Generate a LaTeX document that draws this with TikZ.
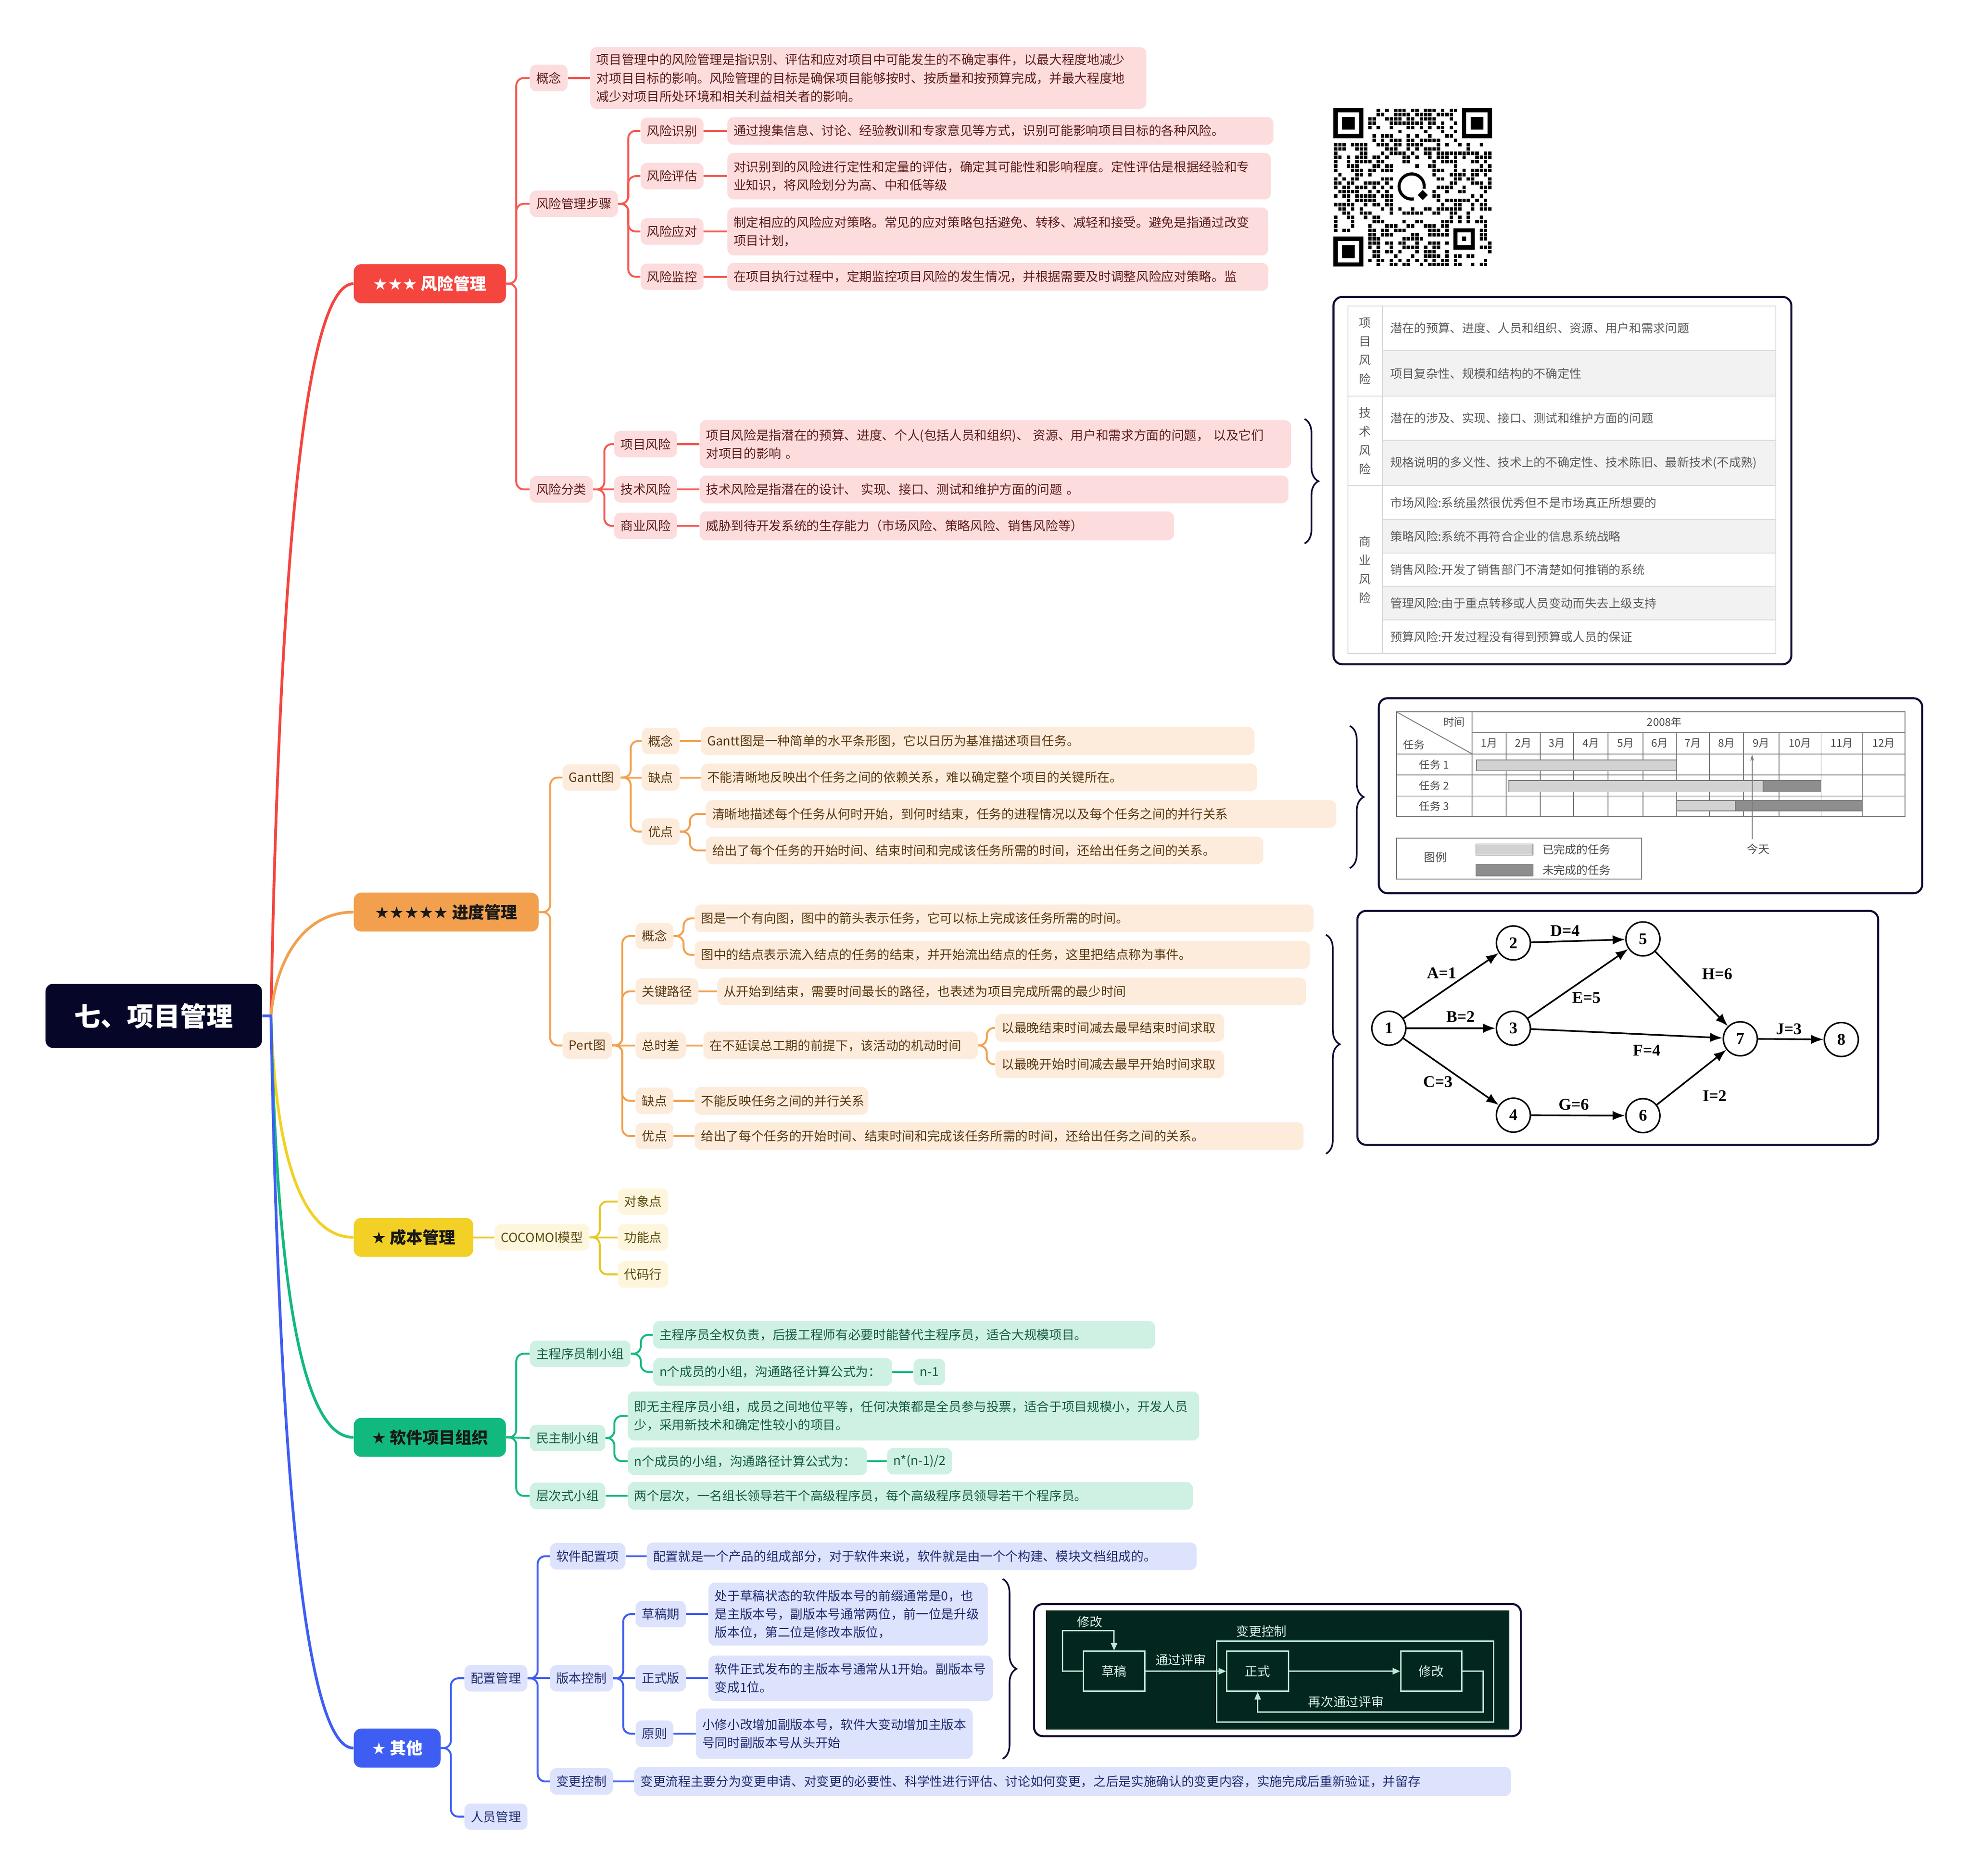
\documentclass[tikz,border=0pt]{standalone}
\usepackage{fontspec}
\setmainfont{Noto Sans CJK SC}
\newfontfamily\symfont{DejaVu Sans}
\newfontfamily\pertfont{Liberation Serif}
\usetikzlibrary{arrows.meta,decorations.pathreplacing,calc}
\definecolor{rootc}{HTML}{050628}
\definecolor{rM}{HTML}{F4453E}
\definecolor{rL}{HTML}{FCDCDC}
\definecolor{rT}{HTML}{5E1C1C}
\definecolor{oM}{HTML}{F2A04E}
\definecolor{oL}{HTML}{FDECDC}
\definecolor{oT}{HTML}{5A3912}
\definecolor{yM}{HTML}{F2D026}
\definecolor{yL}{HTML}{FEF6DC}
\definecolor{yT}{HTML}{5C4A0E}
\definecolor{gM}{HTML}{12B97E}
\definecolor{gL}{HTML}{CEF1E3}
\definecolor{gT}{HTML}{155C3F}
\definecolor{bM}{HTML}{3E5EF3}
\definecolor{bL}{HTML}{DDE2FD}
\definecolor{bT}{HTML}{1F2B6E}
\definecolor{navy}{HTML}{0D0D35}
\definecolor{cgreen}{HTML}{03261F}
\definecolor{cline}{HTML}{BCE9DA}
\definecolor{ctext}{HTML}{D8F2EA}
\definecolor{tgray}{HTML}{5C5C5C}
\definecolor{tline}{HTML}{DADADA}
\definecolor{trow}{HTML}{F2F2F2}
\definecolor{gtext}{HTML}{4A4A4A}
\definecolor{gline}{HTML}{7A7A7A}
\definecolor{barL}{HTML}{D2D2D2}
\definecolor{barD}{HTML}{8E8E8E}
\begin{document}
\begin{tikzpicture}[x=1pt,y=-1pt,
 basef/.style={font=\fontsize{10}{14.5}\selectfont},
 lab/.style={basef, anchor=west, rounded corners=5pt, minimum height=21pt, inner xsep=5pt, inner ysep=0pt},
 tb/.style={basef, anchor=west, rounded corners=5pt, minimum height=22pt, inner xsep=5pt, inner ysep=0pt, align=left},
 Rs/.style={fill=rL,text=rT}, Os/.style={fill=oL,text=oT}, Ys/.style={fill=yL,text=yT},
 Gs/.style={fill=gL,text=gT}, Bs/.style={fill=bL,text=bT},
 lk/.style={line width=1.5pt, rounded corners=6pt},
 Rl/.style={lk, draw=rM!90}, Ol/.style={lk, draw=oM}, Yl/.style={lk, draw=yM!95!black},
 Gl/.style={lk, draw=gM}, Bl/.style={lk, draw=bM},
 mainb/.style={anchor=west, rounded corners=6pt, minimum height=31pt, inner sep=0pt, font=\fontsize{13}{15}\selectfont\bfseries},
 mline/.style={line width=2.2pt},
 panel/.style={draw=navy, line width=1.6pt, rounded corners=7pt, fill=white},
 tcell/.style={font=\fontsize{9.5}{14}\selectfont, text=tgray, anchor=west, inner sep=0pt},
 tcol/.style={font=\fontsize{9.5}{15}\selectfont, text=tgray, align=center, inner sep=0pt},
 gtx/.style={font=\fontsize{8.5}{10}\selectfont, text=gtext, inner sep=0pt},
 pnode/.style={circle, draw, line width=1.2pt, minimum size=27pt, inner sep=0pt, fill=white, font=\pertfont\bfseries\fontsize{13}{14}\selectfont},
 plab/.style={font=\pertfont\bfseries\fontsize{13}{14}\selectfont, inner sep=0pt},
 parr/.style={line width=1.3pt, -{Latex[length=10pt,width=7.5pt]}},
 cbox/.style={draw=cline, line width=1.1pt, text=ctext, font=\fontsize{10}{12}\selectfont, inner sep=0pt},
 carr/.style={draw=cline, line width=1.1pt, -{Triangle[length=6pt,width=5pt]}},
 ctx/.style={text=ctext, font=\fontsize{10}{12}\selectfont, inner sep=0pt},
 bracec/.style={draw=navy, line width=1.3pt, decorate, decoration={brace, amplitude=11pt}}
]
\useasboundingbox (0,0) rectangle (1566,1491);
\fill[white] (0,0) rectangle (1566,1491);

% ================= root and main branches
\node[anchor=west, fill=rootc, text=white, rounded corners=6pt, minimum width=172pt, minimum height=51pt, inner sep=0pt, font=\fontsize{21}{24}\selectfont\bfseries] (root) at (36,807.5) {七、项目管理};
\node[mainb, fill=rM, text=white, minimum width=121pt] (risk) at (281,225.5) {{\symfont ★★★} 风险管理};
\node[mainb, fill=oM, text=black!90, minimum width=147pt] (prog) at (281,725) {{\symfont ★★★★★} 进度管理};
\node[mainb, fill=yM, text=black!90, minimum width=95pt] (cost) at (281,983.5) {{\symfont ★} 成本管理};
\node[mainb, fill=gM, text=black!90, minimum width=121pt] (org) at (281,1142.5) {{\symfont ★} 软件项目组织};
\node[mainb, fill=bM, text=white, minimum width=69pt] (oth) at (281,1389.5) {{\symfont ★} 其他};

\coordinate (hub) at ($(root.east)+(7,0)$);
\draw[mline, rM] (root.east) -- (hub) .. controls (221,500) and (238,226) .. (risk.west);
\draw[mline, oM] (root.east) -- (hub) .. controls (219,765) and (240,725) .. (prog.west);
\draw[mline, yM] (root.east) -- (hub) .. controls (219,920) and (240,983.5) .. (cost.west);
\draw[mline, gM] (root.east) -- (hub) .. controls (220,1010) and (238,1142.5) .. (org.west);
\draw[mline, bM] (root.east) -- (hub) .. controls (221,1116) and (238,1389.5) .. (oth.west);

% ================= risk management
\node[lab,Rs] (r1) at (421,62) {概念};
\node[tb,Rs,text width=432pt,minimum height=49pt] (r1t) at (469,62) {项目管理中的风险管理是指识别、评估和应对项目中可能发生的不确定事件，以最大程度地减少\\对项目目标的影响。风险管理的目标是确保项目能够按时、按质量和按预算完成，并最大程度地\\减少对项目所处环境和相关利益相关者的影响。};
\node[lab,Rs] (r2) at (421,162) {风险管理步骤};
\node[lab,Rs] (r21) at (509,104) {风险识别};
\node[tb,Rs,text width=424pt] (r21t) at (578,104) {通过搜集信息、讨论、经验教训和专家意见等方式，识别可能影响项目目标的各种风险。};
\node[lab,Rs] (r22) at (509,140) {风险评估};
\node[tb,Rs,text width=422pt,minimum height=37pt] (r22t) at (578,140) {对识别到的风险进行定性和定量的评估，确定其可能性和影响程度。定性评估是根据经验和专\\业知识，将风险划分为高、中和低等级};
\node[lab,Rs] (r23) at (509,184) {风险应对};
\node[tb,Rs,text width=420pt,minimum height=38pt] (r23t) at (578,184) {制定相应的风险应对策略。常见的应对策略包括避免、转移、减轻和接受。避免是指通过改变\\项目计划，};
\node[lab,Rs] (r24) at (509,220) {风险监控};
\node[tb,Rs,text width=420pt] (r24t) at (578,220) {在项目执行过程中，定期监控项目风险的发生情况，并根据需要及时调整风险应对策略。监};
\node[lab,Rs] (r3) at (421,389) {风险分类};
\node[lab,Rs] (r31) at (488,353) {项目风险};
\node[tb,Rs,text width=460pt,minimum height=38pt] (r31t) at (556,353) {项目风险是指潜在的预算、进度、个人(包括人员和组织)、 资源、用户和需求方面的问题， 以及它们\\对项目的影响 。};
\node[lab,Rs] (r32) at (488,389) {技术风险};
\node[tb,Rs,text width=458pt] (r32t) at (556,389) {技术风险是指潜在的设计、 实现、接口、测试和维护方面的问题 。};
\node[lab,Rs] (r33) at (488,418) {商业风险};
\node[tb,Rs,text width=367pt,minimum height=23pt] (r33t) at (556,418) {威胁到待开发系统的生存能力（市场风险、策略风险、销售风险等）};

\draw[Rl] (risk.east) -- ++(8,0) |- (r1.west);
\draw[Rl] (risk.east) -- ++(8,0) |- (r2.west);
\draw[Rl] (risk.east) -- ++(8,0) |- (r3.west);
\draw[Rl] (r1.east) -- (r1t.west);
\foreach \c in {r21,r22,r23,r24}{\draw[Rl] (r2.east) -- ++(8,0) |- (\c.west); \draw[Rl] (\c.east) -- (\c t.west);}
\draw[Rl] (r3.east) -- ++(9,0) |- (r31.west);
\draw[Rl] (r3.east) -- (r32.west);
\draw[Rl] (r3.east) -- ++(9,0) |- (r33.west);
\foreach \c in {r31,r32,r33}{\draw[Rl] (\c.east) -- (\c t.west);}

% ================= QR code
\begin{scope}[shift={(1060,86)}]
\def\qm{3.405}
\foreach \fx/\fy in {0/0,30/0,0/30}{
  \fill[black] (\fx*\qm,\fy*\qm) rectangle ++(7*\qm,7*\qm);
  \fill[white] (\fx*\qm+\qm,\fy*\qm+\qm) rectangle ++(5*\qm,5*\qm);
  \fill[black] (\fx*\qm+2*\qm,\fy*\qm+2*\qm) rectangle ++(3*\qm,3*\qm);
}
\fill[black] (28*\qm,28*\qm) rectangle ++(5*\qm,5*\qm);
\fill[white] (29*\qm,29*\qm) rectangle ++(3*\qm,3*\qm);
\fill[black] (30*\qm,30*\qm) rectangle ++(\qm,\qm);
\pgfmathsetseed{4242}
\foreach \i in {0,...,36}{
  \foreach \j in {0,...,36}{
    \pgfmathtruncatemacro\skp{((\i<8)&&(\j<8))||((\i>28)&&(\j<8))||((\i<8)&&(\j>28))||((\i>26)&&(\i<34)&&(\j>26)&&(\j<34))||((\i>13)&&(\i<23)&&(\j>13)&&(\j<23))}
    \pgfmathtruncatemacro\on{rnd<0.5}
    \ifnum\skp=0 \ifnum\on=1
      \fill[black] (\i*\qm+0.35,\j*\qm+0.35) rectangle ++(\qm-0.7,\qm-0.7);
    \fi\fi
  }
}
\draw[line width=2.4pt] (1123.9-1060,158.1-86) arc[start angle=80, end angle=370, radius=10];
\fill[black] (1131-1060,151-86) -- (1135-1060,155-86) -- (1131-1060,159-86) -- (1127-1060,155-86) -- cycle;
\end{scope}

% ================= risk table
\draw[panel] (1060,236) rectangle (1424,528);
\fill[trow] (1098.8,278.7) rectangle (1411.6,314.9);
\fill[trow] (1098.8,350) rectangle (1411.6,386);
\fill[trow] (1098.8,412.9) rectangle (1411.6,439.6);
\fill[trow] (1098.8,466) rectangle (1411.6,492.8);
\begin{scope}[draw=tline, line width=0.8pt]
\draw (1071.4,243.3) rectangle (1411.6,519.5);
\draw (1098.8,243.3) -- (1098.8,519.5);
\draw (1071.4,314.9) -- (1411.6,314.9);
\draw (1071.4,386) -- (1411.6,386);
\foreach \yy in {278.7,350,412.9,439.6,466,492.8} \draw (1098.8,\yy) -- (1411.6,\yy);
\end{scope}
\node[tcol] (tc1) at (1085,279) {项\\目\\风\\险};
\node[tcol] (tc2) at (1085,350.5) {技\\术\\风\\险};
\node[tcol] (tc3) at (1085,452.8) {商\\业\\风\\险};
\node[tcell] (tr1) at (1105,261) {潜在的预算、进度、人员和组织、资源、用户和需求问题};
\node[tcell] (tr2) at (1105,296.8) {项目复杂性、规模和结构的不确定性};
\node[tcell] (tr3) at (1105,332.5) {潜在的涉及、实现、接口、测试和维护方面的问题};
\node[tcell] (tr4) at (1105,368) {规格说明的多义性、技术上的不确定性、技术陈旧、最新技术(不成熟)};
\node[tcell] (tr5) at (1105,399.5) {市场风险:系统虽然很优秀但不是市场真正所想要的};
\node[tcell] (tr6) at (1105,426.3) {策略风险:系统不再符合企业的信息系统战略};
\node[tcell] (tr7) at (1105,452.8) {销售风险:开发了销售部门不清楚如何推销的系统};
\node[tcell] (tr8) at (1105,479.4) {管理风险:由于重点转移或人员变动而失去上级支持};
\node[tcell] (tr9) at (1105,506.2) {预算风险:开发过程没有得到预算或人员的保证};

% ================= progress management
\node[lab,Os] (g) at (447,618) {Gantt图};
\node[lab,Os] (g1) at (510,589) {概念};
\node[tb,Os,text width=430pt] (g1t) at (557,589) {Gantt图是一种简单的水平条形图，它以日历为基准描述项目任务。};
\node[lab,Os] (g2) at (510,618) {缺点};
\node[tb,Os,text width=432pt] (g2t) at (557,618) {不能清晰地反映出个任务之间的依赖关系，难以确定整个项目的关键所在。};
\node[lab,Os] (g3) at (510,661) {优点};
\node[tb,Os,text width=491pt] (g3a) at (561,647) {清晰地描述每个任务从何时开始，到何时结束，任务的进程情况以及每个任务之间的并行关系};
\node[tb,Os,text width=433pt] (g3b) at (561,676) {给出了每个任务的开始时间、结束时间和完成该任务所需的时间，还给出任务之间的关系。};
\node[lab,Os] (p) at (447,831) {Pert图};
\node[lab,Os] (p1) at (505,744) {概念};
\node[tb,Os,text width=482pt] (p1a) at (552,730) {图是一个有向图，图中的箭头表示任务，它可以标上完成该任务所需的时间。};
\node[tb,Os,text width=479pt] (p1b) at (552,759) {图中的结点表示流入结点的任务的结束，并开始流出结点的任务，这里把结点称为事件。};
\node[lab,Os] (p2) at (505,788) {关键路径};
\node[tb,Os,text width=458pt] (p2t) at (570,788) {从开始到结束，需要时间最长的路径，也表述为项目完成所需的最少时间};
\node[lab,Os] (p3) at (505,831) {总时差};
\node[tb,Os,text width=208pt] (p3t) at (559,831) {在不延误总工期的前提下，该活动的机动时间};
\node[tb,Os,text width=172pt] (p3a) at (791,817) {以最晚结束时间减去最早结束时间求取};
\node[tb,Os,text width=172pt] (p3b) at (791,846) {以最晚开始时间减去最早开始时间求取};
\node[lab,Os] (p4) at (505,875) {缺点};
\node[tb,Os,text width=128pt] (p4t) at (552,875) {不能反映任务之间的并行关系};
\node[lab,Os] (p5) at (505,903) {优点};
\node[tb,Os,text width=474pt] (p5t) at (552,903) {给出了每个任务的开始时间、结束时间和完成该任务所需的时间，还给出任务之间的关系。};

\draw[Ol] (prog.east) -- ++(9,0) |- (g.west);
\draw[Ol] (prog.east) -- ++(9,0) |- (p.west);
\draw[Ol] (g.east) -- ++(8,0) |- (g1.west);
\draw[Ol] (g.east) -- (g2.west);
\draw[Ol] (g.east) -- ++(8,0) |- (g3.west);
\draw[Ol] (g1.east) -- (g1t.west);
\draw[Ol] (g2.east) -- (g2t.west);
\draw[Ol] (g3.east) -- ++(8,0) |- (g3a.west);
\draw[Ol] (g3.east) -- ++(8,0) |- (g3b.west);
\foreach \c in {p1,p2,p4,p5}{\draw[Ol] (p.east) -- ++(8,0) |- (\c.west);}
\draw[Ol] (p.east) -- (p3.west);
\draw[Ol] (p1.east) -- ++(8,0) |- (p1a.west);
\draw[Ol] (p1.east) -- ++(8,0) |- (p1b.west);
\draw[Ol] (p2.east) -- (p2t.west);
\draw[Ol] (p3.east) -- (p3t.west);
\draw[Ol] (p3t.east) -- ++(7,0) |- (p3a.west);
\draw[Ol] (p3t.east) -- ++(7,0) |- (p3b.west);
\draw[Ol] (p4.east) -- (p4t.west);
\draw[Ol] (p5.east) -- (p5t.west);

% ================= Gantt chart panel
\draw[panel] (1096,555) rectangle (1528,710);
\begin{scope}[draw=gline, line width=0.7pt]
\draw (1110,565.8) rectangle (1514.4,649);
\draw (1170.3,582.2) -- (1514.4,582.2);
\foreach \yy in {599.3,616,632.8} \draw (1110,\yy) -- (1514.4,\yy);
\draw (1170.3,565.8) -- (1170.3,649);
\foreach \xx in {1197.3,1224.5,1250.8,1278.4,1305.9,1332.8,1358.9,1386.1,1414.0,1447.6,1480.4} \draw (\xx,582.2) -- (\xx,649);
\draw (1110,565.8) -- (1170.3,599.3);
\end{scope}
\node[gtx] (gtime) at (1156,574) {时间};
\node[gtx] (gtask) at (1124,592) {任务};
\node[gtx] (gyear) at (1323,574) {2008年};
\foreach \cx/\mn in {1183.8/1,1210.9/2,1237.65/3,1264.6/4,1292.15/5,1319.35/6,1345.85/7,1372.5/8,1400.05/9,1430.8/10,1464/11,1497.4/12}{
  \node[gtx] (mon\mn) at (\cx,590.8) {\mn 月};
}
\node[gtx] (gt1) at (1140,607.7) {任务 1};
\node[gtx] (gt2) at (1140,624.4) {任务 2};
\node[gtx] (gt3) at (1140,640.9) {任务 3};
\filldraw[fill=barL, draw=gline, line width=0.6pt] (1173.7,604) rectangle (1332.8,612.5);
\filldraw[fill=barL, draw=gline, line width=0.6pt] (1199.5,620.3) rectangle (1401.5,629.5);
\filldraw[fill=barD, draw=gline, line width=0.6pt] (1401.5,620.3) rectangle (1447.6,629.5);
\filldraw[fill=barL, draw=gline, line width=0.6pt] (1332.8,636.2) rectangle (1379.4,644.5);
\filldraw[fill=barD, draw=gline, line width=0.6pt] (1379.4,636.2) rectangle (1480.4,644.5);
\node[gtx, font=\fontsize{9}{10}\selectfont] (today) at (1397.7,675) {今天};
\coordinate (todayTop) at (1392.8,599.8);
\draw[gline, line width=0.7pt, -{Stealth[length=5pt,width=3pt]}] (1392.8,667) -- (todayTop);
\draw[gline, line width=0.7pt] (1110,666.3) rectangle (1305,698.6);
\node[gtx, font=\fontsize{9}{10}\selectfont] (legend) at (1141,681.3) {图例};
\filldraw[fill=barL, draw=gline, line width=0.6pt] (1173.2,670.7) rectangle (1218.6,679.8);
\filldraw[fill=barD, draw=gline, line width=0.6pt] (1173.2,687) rectangle (1218.6,696.3);
\node[gtx, anchor=west, font=\fontsize{9}{10}\selectfont] (lg1) at (1226,675.3) {已完成的任务};
\node[gtx, anchor=west, font=\fontsize{9}{10}\selectfont] (lg2) at (1226,691.5) {未完成的任务};

% ================= PERT panel
\draw[panel] (1079,724) rectangle (1493,910);
\node[pnode] (n1) at (1104,817.3) {1};
\node[pnode] (n2) at (1203,749.5) {2};
\node[pnode] (n3) at (1203,817.3) {3};
\node[pnode] (n4) at (1203,886.4) {4};
\node[pnode] (n5) at (1306,746.3) {5};
\node[pnode] (n6) at (1306,886.8) {6};
\node[pnode] (n7) at (1383.4,825.7) {7};
\node[pnode] (n8) at (1463.7,826.3) {8};
\draw[parr] (n1) -- (n2);
\draw[parr] (n1) -- (n3);
\draw[parr] (n1) -- (n4);
\draw[parr] (n2) -- (n5);
\draw[parr] (n3) -- (n5);
\draw[parr] (n3) -- (n7);
\draw[parr] (n5) -- (n7);
\draw[parr] (n4) -- (n6);
\draw[parr] (n6) -- (n7);
\draw[parr] (n7) -- (n8);
\node[plab] (eA) at (1146,773.4) {A=1};
\node[plab] (eB) at (1161,808) {B=2};
\node[plab] (eC) at (1143,860) {C=3};
\node[plab] (eD) at (1244,740) {D=4};
\node[plab] (eE) at (1261,793) {E=5};
\node[plab] (eF) at (1309,835) {F=4};
\node[plab] (eG) at (1251,878) {G=6};
\node[plab] (eH) at (1365,774.1) {H=6};
\node[plab] (eI) at (1363,871) {I=2};
\node[plab] (eJ) at (1422,818) {J=3};

% ================= cost management
\node[lab,Ys] (c) at (393,983.5) {COCOMOl模型};
\node[lab,Ys] (c1) at (491,955) {对象点};
\node[lab,Ys] (c2) at (491,983.5) {功能点};
\node[lab,Ys] (c3) at (491,1013) {代码行};
\draw[Yl] (cost.east) -- (c.west);
\draw[Yl] (c.east) -- ++(8,0) |- (c1.west);
\draw[Yl] (c.east) -- (c2.west);
\draw[Yl] (c.east) -- ++(8,0) |- (c3.west);

% ================= software project organisation
\node[lab,Gs] (s1) at (421,1076) {主程序员制小组};
\node[tb,Gs,text width=389pt] (s1a) at (519,1061) {主程序员全权负责，后援工程师有必要时能替代主程序员，适合大规模项目。};
\node[tb,Gs,text width=180pt] (s1b) at (519,1090.5) {n个成员的小组，沟通路径计算公式为：};
\node[lab,Gs] (s1c) at (726,1090.5) {n-1};
\node[lab,Gs] (s2) at (421,1143) {民主制小组};
\node[tb,Gs,text width=444pt,minimum height=39pt] (s2a) at (499,1125.5) {即无主程序员小组，成员之间地位平等，任何决策都是全员参与投票，适合于项目规模小，开发人员\\少，采用新技术和确定性较小的项目。};
\node[tb,Gs,text width=180pt] (s2b) at (499,1161.5) {n个成员的小组，沟通路径计算公式为：};
\node[lab,Gs] (s2c) at (705,1161.5) {n*(n-1)/2};
\node[lab,Gs] (s3) at (421,1189) {层次式小组};
\node[tb,Gs,text width=439pt] (s3t) at (499,1189) {两个层次，一名组长领导若干个高级程序员，每个高级程序员领导若干个程序员。};
\draw[Gl] (org.east) -- ++(8,0) |- (s1.west);
\draw[Gl] (org.east) -- (s2.west);
\draw[Gl] (org.east) -- ++(8,0) |- (s3.west);
\draw[Gl] (s1.east) -- ++(8,0) |- (s1a.west);
\draw[Gl] (s1.east) -- ++(8,0) |- (s1b.west);
\draw[Gl] (s1b.east) -- (s1c.west);
\draw[Gl] (s2.east) -- ++(7,0) |- (s2a.west);
\draw[Gl] (s2.east) -- ++(7,0) |- (s2b.west);
\draw[Gl] (s2b.east) -- (s2c.west);
\draw[Gl] (s3.east) -- (s3t.west);

% ================= others
\node[lab,Bs] (o1) at (369,1334) {配置管理};
\node[lab,Bs] (o2) at (369,1444) {人员管理};
\node[lab,Bs] (o11) at (437,1237) {软件配置项};
\node[tb,Bs,text width=427pt] (o11t) at (514,1237) {配置就是一个产品的组成部分，对于软件来说，软件就是由一个个构建、模块文档组成的。};
\node[lab,Bs] (o12) at (437,1334) {版本控制};
\node[lab,Bs] (o121) at (505,1283) {草稿期};
\node[tb,Bs,text width=212pt,minimum height=50pt] (o121t) at (563,1283) {处于草稿状态的软件版本号的前缀通常是0，也\\是主版本号，副版本号通常两位，前一位是升级\\版本位，第二位是修改本版位，};
\node[lab,Bs] (o122) at (505,1334) {正式版};
\node[tb,Bs,text width=216pt,minimum height=36pt] (o122t) at (563,1334) {软件正式发布的主版本号通常从1开始。副版本号\\变成1位。};
\node[lab,Bs] (o123) at (505,1378) {原则};
\node[tb,Bs,text width=210pt,minimum height=40pt] (o123t) at (553,1378) {小修小改增加副版本号，软件大变动增加主版本\\号同时副版本号从头开始};
\node[lab,Bs] (o13) at (437,1416) {变更控制};
\node[tb,Bs,text width=687pt,minimum height=23pt] (o13t) at (504,1416) {变更流程主要分为变更申请、对变更的必要性、科学性进行评估、讨论如何变更，之后是实施确认的变更内容，实施完成后重新验证，并留存};
\draw[Bl] (oth.east) -- ++(8,0) |- (o1.west);
\draw[Bl] (oth.east) -- ++(8,0) |- (o2.west);
\draw[Bl] (o1.east) -- ++(8,0) |- (o11.west);
\draw[Bl] (o1.east) -- (o12.west);
\draw[Bl] (o1.east) -- ++(8,0) |- (o13.west);
\draw[Bl] (o11.east) -- (o11t.west);
\draw[Bl] (o12.east) -- ++(8,0) |- (o121.west);
\draw[Bl] (o12.east) -- (o122.west);
\draw[Bl] (o12.east) -- ++(8,0) |- (o123.west);
\draw[Bl] (o121.east) -- (o121t.west);
\draw[Bl] (o122.east) -- (o122t.west);
\draw[Bl] (o123.east) -- (o123t.west);
\draw[Bl] (o13.east) -- (o13t.west);

% ================= change-control diagram
\draw[panel] (822,1275) rectangle (1209,1380);
\fill[cgreen] (831.3,1280) rectangle (1199.8,1374.6);
\node[cbox, minimum width=48.8pt, minimum height=31.9pt] (draft) at (885.6,1328.4) {草稿};
\node[cbox, minimum width=49.1pt, minimum height=31.9pt] (formal) at (999.75,1328.4) {正式};
\node[cbox, minimum width=48.5pt, minimum height=31.9pt] (modify) at (1137.85,1328.4) {修改};
\node[draw=cline, line width=1.1pt, minimum width=220pt, minimum height=64.5pt, inner sep=0pt] (ccframe) at (1077.3,1336.65) {};
\node[ctx] (lmod) at (866.3,1289.2) {修改};
\node[ctx] (lcc) at (1002.8,1296.8) {变更控制};
\node[ctx] (lpass) at (938.6,1319.5) {通过评审};
\node[ctx] (lagain) at (1069.9,1352.7) {再次通过评审};
\draw[carr] (draft.west) -- ++(-16,0) -- ++(0,-32.3) -| (draft.north);
\draw[carr] (draft.east) -- (formal.west);
\draw[carr] (formal.east) -- (modify.west);
\draw[carr] (modify.east) -- ++(16.4,0) -- ++(0,32.6) -| (formal.south);

% ================= braces
\draw[bracec] (1037,333) -- (1037,432);
\draw[bracec] (1073,577) -- (1073,690);
\draw[bracec] (1054,743) -- (1054,917);
\draw[bracec] (797,1255) -- (797,1398);
\end{tikzpicture}
\end{document}
